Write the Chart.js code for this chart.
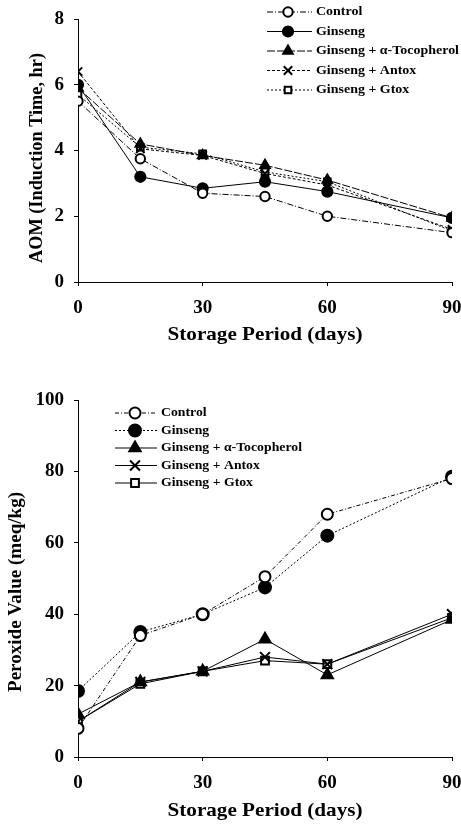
<!DOCTYPE html>
<html><head><meta charset="utf-8">
<script src="https://cdn.jsdelivr.net/npm/chart.js@4/dist/chart.umd.min.js"></script>
<style>
html,body{margin:0;padding:0;background:#fff;width:461px;height:824px;overflow:hidden}
#c1w{position:absolute;left:0;top:0;width:461px;height:350px}
#c2w{position:absolute;left:0;top:380px;width:461px;height:444px}
</style></head><body>
<div id="c1w"><canvas id="c1"></canvas></div>
<div id="c2w"><canvas id="c2"></canvas></div>
<script>
const days = [0, 15, 30, 45, 60, 90];
const seriesNames = ["Control", "Ginseng", "Ginseng + \u03b1-Tocopherol", "Ginseng + Antox", "Ginseng + Gtox"];
const aomControl = [5.5, 3.75, 2.7, 2.6, 2.0, 1.5];
const aomGinseng = [6.0, 3.2, 2.85, 3.05, 2.75, 1.95];
const aomToco = [5.9, 4.2, 3.85, 3.55, 3.1, 1.95];
const aomAntox = [6.4, 4.05, 3.85, 3.3, 2.95, 1.6];
const aomGtox = [5.7, 4.1, 3.9, 3.35, 3.05, 1.55];
const pvControl = [8, 34, 40, 50.5, 68, 78];
const pvGinseng = [18.5, 35, 40, 47.5, 62, 78.5];
const pvToco = [12, 21, 24, 33, 23, 38.5];
const pvAntox = [10, 21, 24, 28, 26, 40];
const pvGtox = [10, 20.5, 24, 27, 26, 39];
const aomTicks = [0, 2, 4, 6, 8];
const pvTicks = [0, 20, 40, 60, 80, 100];
const dayTicks = [0, 30, 60, 90];
const xTitle = 'Storage Period (days)';
const aomTitle = 'AOM (Induction Time, hr)';
const pvTitle = 'Peroxide Value (meq/kg)';

const markers = [
  {pointStyle:'circle', bg:'#fff', r:5.5},
  {pointStyle:'circle', bg:'#000', r:6},
  {pointStyle:'triangle', bg:'#000', r:6.5},
  {pointStyle:'crossRot', bg:'#000', r:7},
  {pointStyle:'rect', bg:'#fff', r:5.5}
];
const FONT = "'Liberation Serif', 'Times New Roman', serif";

function makeDatasets(vals, dashes, k) {
  return vals.map((v, i) => ({
    label: seriesNames[i],
    data: days.map((d, j) => ({x: d, y: v[j]})),
    borderColor: '#000', borderWidth: 1, borderDash: dashes[i],
    pointStyle: markers[i].pointStyle, pointRadius: markers[i].r * k,
    pointBackgroundColor: markers[i].bg, pointBorderColor: '#000', pointBorderWidth: 2,
    tension: 0
  }));
}

// draw text horizontally stretched by factor sx
function drawStretched(ctx, text, x, y, sx, rot) {
  ctx.save();
  ctx.translate(x, y);
  if (rot) ctx.rotate(rot);
  ctx.scale(sx, 1);
  ctx.fillText(text, 0, 0);
  ctx.restore();
}

function textPlugin(cfg) {
  return {
    id: 'lg',
    afterDraw(chart) {
      const ctx = chart.ctx;
      ctx.save();
      if ('letterSpacing' in ctx) ctx.letterSpacing = '0px';
      ctx.font = 'bold ' + cfg.fs + 'px ' + FONT;
      const legScale = cfg.legW / ctx.measureText(seriesNames[2]).width;
      chart.data.datasets.forEach((ds, i) => {
        const y = cfg.y0 + i * cfg.dy;
        ctx.strokeStyle = '#000'; ctx.lineWidth = 1;
        ctx.setLineDash(ds.borderDash || []);
        ctx.beginPath(); ctx.moveTo(cfg.x0, y); ctx.lineTo(cfg.x0 + cfg.len, y); ctx.stroke();
        ctx.setLineDash([]);
        ctx.lineWidth = 2;
        ctx.fillStyle = ds.pointBackgroundColor;
        Chart.helpers.drawPoint(ctx, {pointStyle: ds.pointStyle, radius: ds.pointRadius, borderWidth: 2}, cfg.x0 + cfg.mx, y);
        ctx.fillStyle = '#000';
        ctx.font = 'bold ' + cfg.fs + 'px ' + FONT;
        ctx.textBaseline = 'middle'; ctx.textAlign = 'left';
        drawStretched(ctx, ds.label, cfg.x0 + cfg.len + 4, y, legScale, 0);
      });
      // axis titles
      ctx.fillStyle = '#000';
      ctx.textAlign = 'center'; ctx.textBaseline = 'middle';
      ctx.font = 'bold 19px ' + FONT;
      drawStretched(ctx, xTitle, cfg.xtx, cfg.xty, cfg.xtW / ctx.measureText(xTitle).width, 0);
      ctx.font = 'bold 18px ' + FONT;
      drawStretched(ctx, cfg.yTitle, cfg.ytx, cfg.yty, cfg.ytW / ctx.measureText(cfg.yTitle).width, -Math.PI / 2);
      ctx.restore();
    }
  };
}

function makeChart(id, datasets, yMax, yTicks, pad, xH, cfg) {
  return new Chart(document.getElementById(id), {
    type: 'line',
    data: {datasets},
    options: {
      responsive: true, maintainAspectRatio: false, animation: false,
      layout: {padding: pad},
      plugins: {legend: {display: false}, tooltip: {enabled: false}},
      scales: {
        x: {
          type: 'linear', min: 0, max: 90,
          afterBuildTicks: s => { s.ticks = dayTicks.map(v => ({value: v})); },
          afterFit: s => { s.height = xH; s.paddingLeft = 0; s.paddingRight = 0; },
          border: {color: '#000', width: 1},
          grid: {drawOnChartArea: false, drawTicks: true, tickLength: 4, color: '#000'},
          ticks: {color: '#000', font: {family: FONT, size: 19, weight: 'bold'}, padding: 11, maxRotation: 0},
          title: {display: false}
        },
        y: {
          min: 0, max: yMax,
          afterBuildTicks: s => { s.ticks = yTicks.map(v => ({value: v})); },
          afterFit: s => { s.width = 78 - pad.left; s.paddingTop = 0; s.paddingBottom = 0; },
          border: {color: '#000', width: 1},
          grid: {drawOnChartArea: false, drawTicks: true, tickLength: 4, color: '#000'},
          ticks: {color: '#000', font: {family: FONT, size: 19, weight: 'bold'}, padding: 10},
          title: {display: false}
        }
      }
    },
    plugins: [textPlugin(cfg)]
  });
}

makeChart('c1', makeDatasets([aomControl, aomGinseng, aomToco, aomAntox, aomGtox],
  [[6,2,1,2], [], [8,2], [3,2], [2,2]], 0.85), 8, aomTicks,
  {left: 0, right: 9, top: 19, bottom: 0}, 68,
  {x0: 267, len: 45, mx: 21, y0: 12, dy: 19.5, fs: 13.5, legW: 143,
   xtx: 265, xty: 335, xtW: 195, ytx: 37, yty: 158, yTitle: aomTitle, ytW: 210});
makeChart('c2', makeDatasets([pvControl, pvGinseng, pvToco, pvAntox, pvGtox],
  [[4,2,1,2], [2,2], [], [], []], 1), 100, pvTicks,
  {left: 0, right: 9, top: 20, bottom: 0}, 67,
  {x0: 115, len: 42, mx: 20, y0: 33, dy: 17.5, fs: 13.5, legW: 141,
   xtx: 265, xty: 431, xtW: 195, ytx: 16, yty: 212, yTitle: pvTitle, ytW: 200});
</script>
</body></html>
